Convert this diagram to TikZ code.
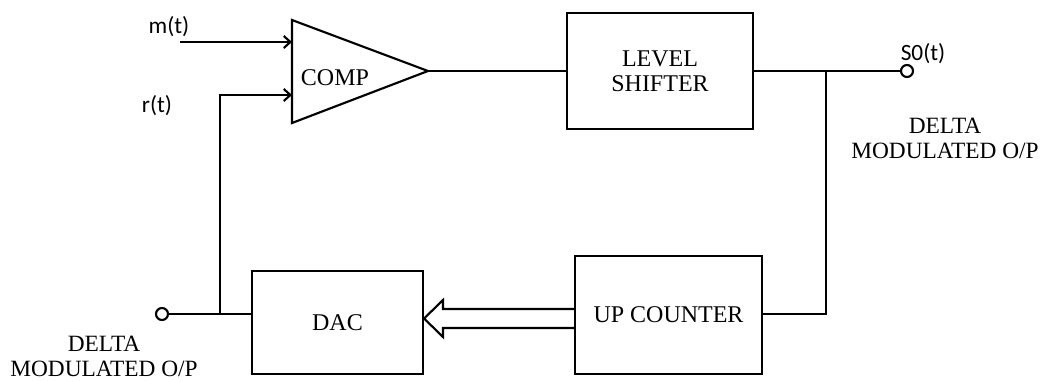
\documentclass[tikz,border=0pt]{standalone}
\usepackage{fontspec}
\usepackage{tikz}
\usetikzlibrary{arrows.meta}
\newfontfamily\blockfont{Liberation Serif}
\newfontfamily\sigfont{Carlito}

\tikzset{
  blk/.style={draw, line width=1.6pt, inner sep=0pt, align=center, font=\blockfont\fontsize{18}{18.75}\selectfont},
  wire/.style={line width=1.6pt},
  sig/.style={font=\sigfont\fontsize{17.5}{20}\selectfont},
  note/.style={align=center, font=\blockfont\fontsize{17.5}{18.75}\selectfont},
  term/.style={circle, draw, line width=1.6pt, fill=white, minimum size=9pt, inner sep=0pt},
  arr/.style={wire, -{Straight Barb[length=5pt,width=9pt,line width=1.6pt]}}
}

\begin{document}
\begin{tikzpicture}[x=0.75pt,y=0.75pt,yscale=-1,xscale=1]
\path[use as bounding box] (0,0) rectangle (1049,381);

%Comparator
\coordinate (cin1) at (292,42);
\coordinate (cin2) at (292,95);
\coordinate (cout) at (428,71);
\draw [wire, line join=miter] (292,20) -- (cout) -- (292,123) -- cycle;
\node (comp) at (335,78) [font=\blockfont\fontsize{18}{21}\selectfont] {COMP};

% Blocks
\node (lvl) at (660,71) [blk, minimum width=139.5pt, minimum height=87pt] {LEVEL\\SHIFTER};
\node (upc) at (668.5,315) [blk, minimum width=140.25pt, minimum height=88.5pt] {UP COUNTER};
\node (dac) at (337.5,322.5) [blk, minimum width=128.25pt, minimum height=77.25pt] {DAC};

% Terminals
\node (so) at (907,71) [term] {};
\node (fb) at (162,314) [term] {};
\coordinate (jr) at (826,71);
\coordinate (jl) at (220,314);
\coordinate (min) at (180,42);

%Straight Lines
\draw [arr] (min) -- (cin1);
\draw [wire] (cout) -- (lvl.west |- cout);
\draw [wire] (lvl.east |- cout) -- (so.west);
\draw [wire] (jr) |- (upc.east |- jl);
\draw [wire] (fb.east) -- (jl -| dac.west);
\draw [arr] (jl) |- (cin2);

%Bus arrow
\draw [wire, line join=miter] (upc.west |- 0,309) -- (443,309) -- (443,300) -- (dac.east |- 0,318.5)
  -- (443,337) -- (443,328) -- (upc.west |- 0,328);

% Text Node
\node (mt) at (169,27) [sig] {m(t)};
% Text Node
\node (rt) at (157,106) [sig] {r(t)};
% Text Node
\node (sot) at (923,54) [sig] {S0(t)};
% Text Node
\node (dmr) at (945,138.5) [note] {DELTA\\MODULATED O/P};
% Text Node
\node (dml) at (104,356) [note] {DELTA\\MODULATED O/P};

\end{tikzpicture}
\end{document}
